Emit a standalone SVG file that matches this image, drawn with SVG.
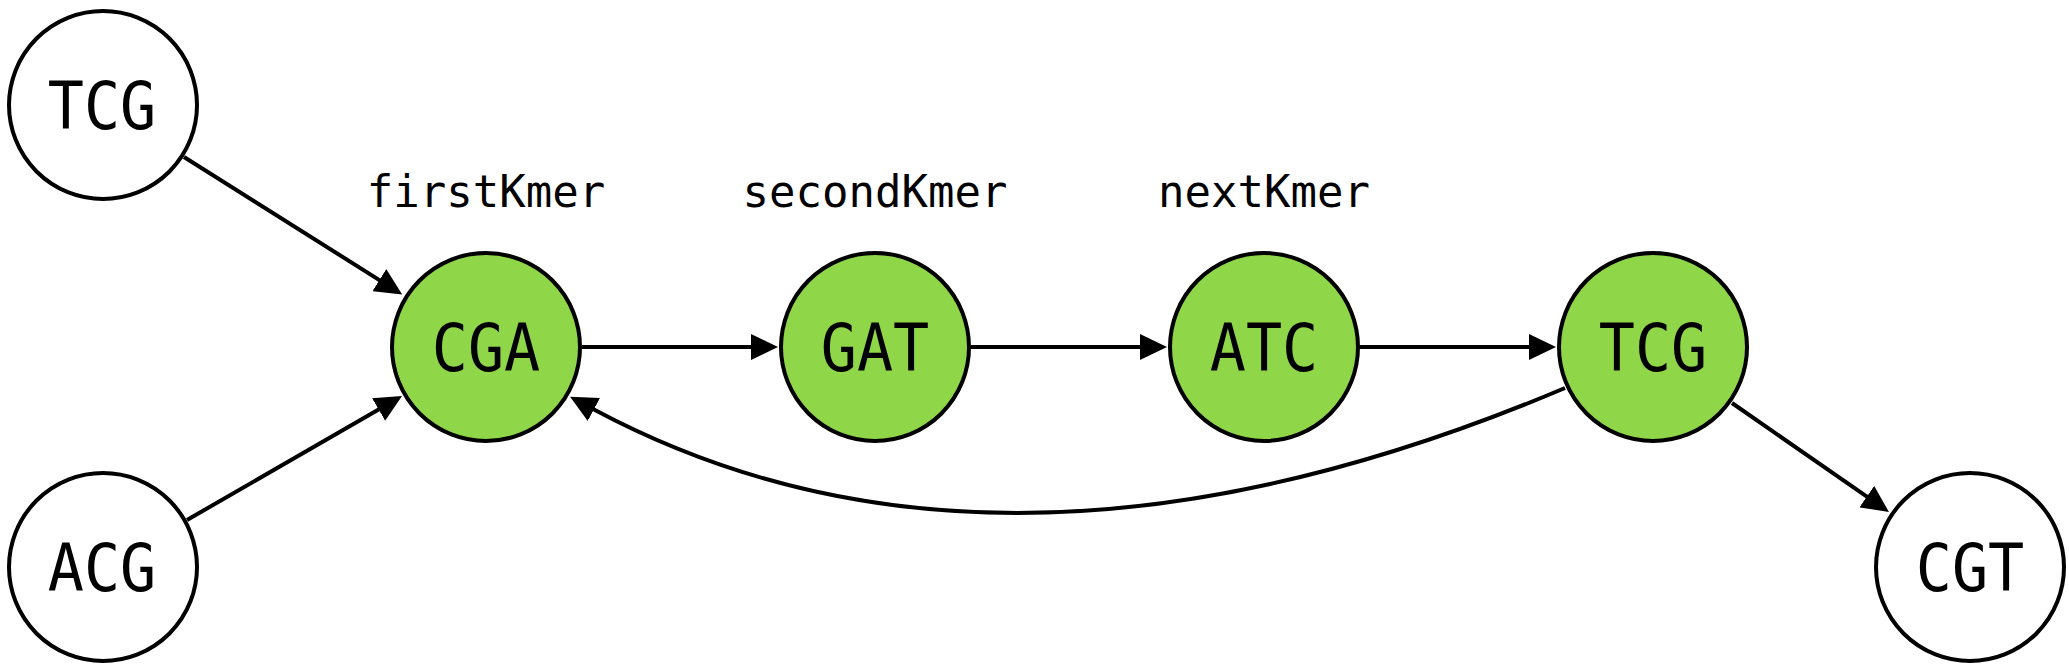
<svg xmlns="http://www.w3.org/2000/svg" width="2069" height="671" viewBox="0 0 2069 671">
  <style>
    .node circle { stroke: #000; stroke-width: 4; }
    .white circle { fill: #fff; }
    .green circle { fill: #8fd648; }
    .node text { font-family: "DejaVu Sans Mono", "Liberation Mono", monospace; font-size: 66px; text-anchor: middle; fill: #000; }
    .label { font-family: "DejaVu Sans Mono", "Liberation Mono", monospace; font-size: 44px; text-anchor: middle; fill: #000; }
    .edges path { fill: none; stroke: #000; stroke-width: 4; marker-end: url(#arrow); }
  </style>
  <defs>
    <marker id="arrow" markerUnits="userSpaceOnUse" viewBox="0 -13 27 26" markerWidth="27" markerHeight="26" refX="1" refY="0" orient="auto">
      <path d="M0,-13 L27,0 L0,13 z" fill="#000"/>
    </marker>
  </defs>
  <rect width="2069" height="671" fill="#fff"/>

  <g id="labels">
    <text class="label" x="486" y="207">firstKmer</text>
    <text class="label" x="875" y="207">secondKmer</text>
    <text class="label" x="1264" y="207">nextKmer</text>
  </g>

  <g class="edges" id="connectors">
    <path d="M184,157 L380.2,280.6"/>
    <path d="M187,520 L379.5,409"/>
    <path d="M582,347 L752,347"/>
    <path d="M971,347 L1141,347"/>
    <path d="M1360,347 L1530,347"/>
    <path d="M1732,403 L1867.6,497.2"/>
    <path d="M1565,388 Q1000,627 593,409"/>
  </g>

  <g id="node-tcg-in" class="node white">
    <circle cx="103" cy="105" r="94"/>
    <text transform="translate(102 129) scale(0.91 1)">TCG</text>
  </g>
  <g id="node-acg" class="node white">
    <circle cx="103" cy="567" r="94"/>
    <text transform="translate(102 591) scale(0.91 1)">ACG</text>
  </g>
  <g id="node-cga" class="node green">
    <circle cx="486" cy="347" r="94"/>
    <text transform="translate(486 371) scale(0.91 1)">CGA</text>
  </g>
  <g id="node-gat" class="node green">
    <circle cx="875" cy="347" r="94"/>
    <text transform="translate(875 371) scale(0.91 1)">GAT</text>
  </g>
  <g id="node-atc" class="node green">
    <circle cx="1264" cy="347" r="94"/>
    <text transform="translate(1264 371) scale(0.91 1)">ATC</text>
  </g>
  <g id="node-tcg" class="node green">
    <circle cx="1653" cy="347" r="94"/>
    <text transform="translate(1653 371) scale(0.91 1)">TCG</text>
  </g>
  <g id="node-cgt" class="node white">
    <circle cx="1970" cy="567" r="94"/>
    <text transform="translate(1970 591) scale(0.91 1)">CGT</text>
  </g>
</svg>
